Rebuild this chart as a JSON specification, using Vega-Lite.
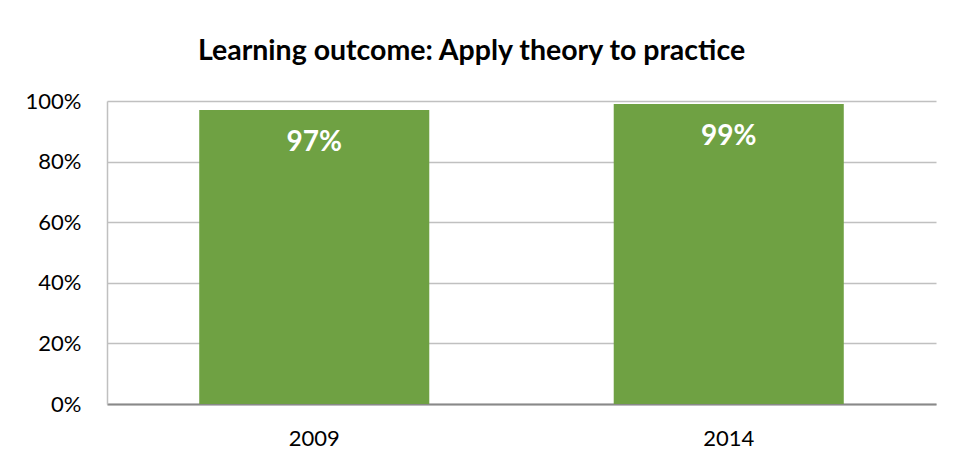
{
  "$schema": "https://vega.github.io/schema/vega-lite/v6.json",
  "autosize": {"type": "none"},
  "width": 829,
  "height": 303,
  "padding": {"left": 107, "top": 101, "right": 18, "bottom": 65},
  "background": "white",
  "data": {"values": [
    {"year": "2009", "value": 0.97},
    {"year": "2014", "value": 0.99}
  ]},
  "title": {
    "text": "Learning outcome: Apply theory to practice",
    "font": "Lato",
    "fontSize": 28.5,
    "fontWeight": "bold",
    "color": "#000000",
    "anchor": "middle",
    "offset": 25,
    "dx": -50
  },
  "config": {
    "view": {"stroke": null},
    "font": "Lato"
  },
  "encoding": {
    "x": {
      "field": "year", "type": "nominal",
      "scale": {"paddingInner": 0.445, "paddingOuter": 0.2225},
      "axis": {
        "title": null, "labelAngle": 0, "labelFont": "Lato", "labelFontSize": 22,
        "labelColor": "#000000", "ticks": false, "labelPadding": 24,
        "domainColor": "#898989", "domainWidth": 2, "grid": false
      }
    },
    "y": {
      "field": "value", "type": "quantitative",
      "scale": {"domain": [0, 1]},
      "axis": {
        "title": null, "format": ".0%", "values": [0, 0.2, 0.4, 0.6, 0.8, 1],
        "labelFont": "Lato", "labelFontSize": 22, "labelColor": "#000000",
        "ticks": false, "labelPadding": 26, "domainColor": "#c0c0c0", "domainWidth": 1.5,
        "gridColor": "#c0c0c0", "gridWidth": 1.5
      }
    }
  },
  "layer": [
    {"mark": {"type": "bar", "color": "#6fa143"}},
    {
      "mark": {"type": "text", "color": "white", "font": "Lato", "fontWeight": "bold", "fontSize": 28, "baseline": "top", "dy": 19},
      "encoding": {"text": {"field": "value", "type": "quantitative", "format": ".0%"}}
    }
  ]
}
